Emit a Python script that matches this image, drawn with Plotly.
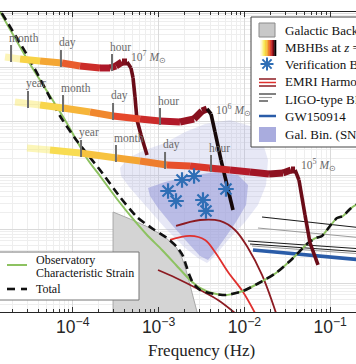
import numpy as np
import plotly.graph_objects as go
from plotly.colors import sample_colorscale

# ================= DATA  (log10 frequency [Hz], log10 characteristic strain) =================
obs_logf = [-4.907, -4.499, -4.091, -3.823, -3.683, -3.485, -3.298, -3.135, -2.960, -2.797, -2.646, -2.518,
            -2.378, -2.215, -2.016, -1.830, -1.632, -1.469, -1.352, -1.259, -1.166, -1.096, -1.002, -0.921,
            -0.851, -0.769, -0.699, -0.629]
obs_logh = [-14.814, -15.944, -16.981, -17.722, -18.018, -18.444, -18.814, -19.111, -19.388, -19.666, -19.926,
            -20.092, -20.185, -20.222, -20.148, -20.000, -19.814, -19.592, -19.407, -19.259, -19.166, -19.129,
            -18.944, -18.796, -18.759, -18.629, -18.555, -18.518]

tot_logf = [-4.907, -4.499, -4.149, -3.951, -3.683, -3.450, -3.252, -3.065, -2.902, -2.786, -2.716, -2.681,
            -2.646, -2.599, -2.518, -2.413, -2.215, -2.016, -1.830, -1.632, -1.469, -1.352, -1.259, -1.166,
            -1.096, -1.002, -0.921, -0.851, -0.769, -0.699, -0.629]
tot_logh = [-14.796, -15.870, -16.907, -17.370, -17.907, -18.407, -18.777, -19.000, -19.166, -19.333, -19.500,
            -19.666, -19.833, -20.000, -20.129, -20.185, -20.222, -20.148, -20.000, -19.814, -19.592, -19.407,
            -19.259, -19.166, -19.129, -18.944, -18.796, -18.759, -18.629, -18.555, -18.518]

galbg_logf = [-3.531, -3.531, -3.333, -3.100, -2.925, -2.797, -2.727, -2.681, -2.634, -2.587, -2.552, -2.541]
galbg_logh = [-20.870, -18.685, -18.814, -18.981, -19.148, -19.333, -19.537, -19.759, -20.037, -20.314, -20.537, -20.870]

galbin_outer_logf = [-3.450, -3.357, -3.159, -2.925, -2.692, -2.459, -2.168, -1.935, -1.795, -1.725, -1.748,
                     -1.842, -1.993, -2.191, -2.343, -2.436, -2.541, -2.692, -2.925, -3.159, -3.333, -3.438]
galbin_outer_logh = [-17.870, -17.685, -17.537, -17.407, -17.203, -17.055, -16.981, -17.092, -17.351, -17.722,
                     -18.185, -18.555, -18.870, -19.203, -19.500, -19.629, -19.537, -19.351, -18.981, -18.555,
                     -18.240, -18.018]
galbin_core_logf = [-3.124, -2.925, -2.634, -2.343, -2.075, -1.958, -1.981, -2.098, -2.226, -2.343, -2.424,
                    -2.518, -2.657, -2.844, -3.007, -3.100]
galbin_core_logh = [-18.240, -18.129, -18.018, -17.944, -18.000, -18.185, -18.555, -18.870, -19.166, -19.425,
                    -19.574, -19.500, -19.259, -18.926, -18.611, -18.388]

vb_logf = [-2.890, -2.797, -2.727, -2.587, -2.483, -2.448, -2.215]
vb_logh = [-18.296, -18.481, -18.092, -18.018, -18.463, -18.666, -18.259]

mbhb7_logf = [-4.790, -4.615, -4.382, -4.126, -3.916, -3.683, -3.566, -3.497, -3.427, -3.368, -3.322, -3.298,
              -3.275, -3.252, -3.205, -3.135]
mbhb7_logh = [-15.814, -15.851, -15.888, -15.925, -15.981, -16.018, -16.018, -15.981, -15.907, -15.907, -16.018,
              -16.203, -16.555, -16.981, -17.259, -17.629]
mbhb6_logf = [-4.674, -4.382, -4.114, -3.800, -3.531, -3.217, -2.984, -2.751, -2.587, -2.494, -2.436, -2.389,
              -2.343, -2.273, -2.203, -2.133]
mbhb6_logh = [-16.648, -16.703, -16.759, -16.833, -16.907, -16.963, -17.000, -17.018, -16.963, -16.814, -16.777,
              -16.870, -17.203, -17.722, -18.185, -18.648]
mbhb5_logf = [-4.534, -4.266, -3.916, -3.485, -3.217, -2.902, -2.634, -2.413, -2.168, -1.935, -1.713, -1.550,
              -1.457, -1.410, -1.364, -1.294, -1.235, -1.142]
mbhb5_logh = [-17.500, -17.537, -17.592, -17.685, -17.740, -17.814, -17.833, -17.870, -17.907, -17.944, -17.981,
              -17.962, -17.907, -17.907, -18.092, -18.740, -19.259, -19.666]
mbhb_mass_labels = ["10<sup>7</sup> <i>M</i><sub>⊙</sub>", "10<sup>6</sup> <i>M</i><sub>⊙</sub>",
                    "10<sup>5</sup> <i>M</i><sub>⊙</sub>"]
mass_label_logf = [-3.345, -2.354, -1.364]
mass_label_logh = [-15.814, -16.796, -17.814]

tick7_logf = [-4.720, -4.138, -3.543]
tick7_logh = [-15.833, -15.925, -16.000]
tick7_text = ["month", "day", "hour"]
tick6_logf = [-4.522, -4.114, -3.531, -2.984]
tick6_logh = [-16.685, -16.759, -16.907, -17.000]
tick6_text = ["year", "month", "day", "hour"]
tick5_logf = [-3.904, -3.497, -2.925, -2.389]
tick5_logh = [-17.592, -17.685, -17.814, -17.870]
tick5_text = ["year", "month", "day", "hour"]

emri1_logf = [-3.007, -2.797, -2.518, -2.308, -2.110]
emri1_logh = [-19.759, -19.907, -20.129, -20.314, -20.555]
emri2_logf = [-2.867, -2.634, -2.459, -2.343, -2.191, -2.016, -1.877]
emri2_logh = [-19.203, -19.129, -19.203, -19.425, -19.796, -20.166, -20.555]
emri3_logf = [-2.797, -2.518, -2.284, -2.110, -1.958, -1.795, -1.632]
emri3_logh = [-18.944, -18.833, -18.851, -19.018, -19.351, -19.851, -20.555]

ligo_logf_start = [-1.795, -1.842, -1.958, -1.935, -1.911]
ligo_logh_start = [-18.777, -18.981, -19.222, -19.277, -19.314]
ligo_logf_end = [-0.62, -0.62, -0.62, -0.62, -0.62]
ligo_logh_end = [-18.981, -19.166, -19.370, -19.425, -19.463]
gw150914_logf = [-1.900, -0.62]
gw150914_logh = [-19.388, -19.574]

# ================= STYLE =================
W, H = 356, 364
ML, MR, MT, MB = 0, 0, 12, 52
PW, PH = W - ML - MR, H - MT - MB
SERIF = "Liberation Serif"
GREEN = "#8dc261"
BLUE = "#2f6eb5"
DKRED = "#8c1b22"
RED = "#e0302e"
LAV = "#a9acde"


def PX(px):
    return (px - ML) / PW


def PY(py):
    return (MT + PH - py) / PH


def pw(v):
    return [10 ** x for x in v]


fig = go.Figure()

# galactic binaries cloud
fig.add_trace(go.Scatter(x=pw(galbin_outer_logf), y=pw(galbin_outer_logh), fill="toself", mode="none",
                         fillcolor="rgba(168,172,224,0.28)", hoverinfo="skip"))
fig.add_trace(go.Scatter(x=pw(galbin_core_logf), y=pw(galbin_core_logh), fill="toself", mode="none",
                         fillcolor="rgba(158,162,220,0.62)", hoverinfo="skip"))
# galactic background
fig.add_trace(go.Scatter(x=pw(galbg_logf), y=pw(galbg_logh), fill="toself", mode="lines",
                         line=dict(color="#a8a8a8", width=1), fillcolor="#d4d4d4", hoverinfo="skip"))
# EMRI harmonics
for lf, lh, c in [(emri1_logf, emri1_logh, DKRED), (emri2_logf, emri2_logh, RED), (emri3_logf, emri3_logh, DKRED)]:
    fig.add_trace(go.Scatter(x=pw(lf), y=pw(lh), mode="lines", line=dict(color=c, width=1.8, shape="spline"),
                             hoverinfo="skip"))
# LIGO-type BBH
ligo_cols = ["#1a1a1a", "#9a9a9a", "#1a1a1a", "#1a1a1a", "#9a9a9a"]
for i in range(len(ligo_logf_start)):
    fig.add_trace(go.Scatter(x=pw([ligo_logf_start[i], ligo_logf_end[i]]),
                             y=pw([ligo_logh_start[i], ligo_logh_end[i]]), mode="lines",
                             line=dict(color=ligo_cols[i], width=1.1), hoverinfo="skip"))
fig.add_trace(go.Scatter(x=pw(gw150914_logf), y=pw(gw150914_logh), mode="lines",
                         line=dict(color="#2a5ca8", width=3.5), hoverinfo="skip"))

# sensitivity curves
fig.add_trace(go.Scatter(x=pw(obs_logf), y=pw(obs_logh), mode="lines",
                         line=dict(color=GREEN, width=2, shape="spline", smoothing=0.6), hoverinfo="skip"))
fig.add_trace(go.Scatter(x=pw(tot_logf), y=pw(tot_logh), mode="lines",
                         line=dict(color="#111111", width=2.6, dash="8px,5px", shape="spline", smoothing=0.6),
                         hoverinfo="skip"))

# MBHB tracks
track_cs = [[0, "#f9f06a"], [0.2, "#f8d448"], [0.4, "#f4a030"], [0.6, "#e43f2a"], [0.8, "#b3192a"], [1, "#7a0e1c"]]
tracks = [(mbhb7_logf, mbhb7_logh, 9, "#6a0c18"),
          (mbhb6_logf, mbhb6_logh, 10, "#160808"),
          (mbhb5_logf, mbhb5_logh, 13, "#6a0c18")]
for lf, lh, di, dcol in tracks:
    n = len(lf)
    for i in range(n - 1):
        if i < di:
            t = ((lf[i] + lf[i + 1]) / 2 - lf[0]) / (lf[di] - lf[0])
            col = sample_colorscale(track_cs, [min(max(t, 0), 1)])[0]
            wid = 7
        else:
            col = dcol
            wid = 3.6
        op = 0.45 if i == 0 else 1.0
        fig.add_trace(go.Scatter(x=pw([lf[i], lf[i + 1]]), y=pw([lh[i], lh[i + 1]]), mode="lines",
                                 line=dict(color=col, width=wid), opacity=op, hoverinfo="skip"))

# time-to-merger ticks & labels
annotations = []
for tf, th, tt in [(tick7_logf, tick7_logh, tick7_text), (tick6_logf, tick6_logh, tick6_text),
                   (tick5_logf, tick5_logh, tick5_text)]:
    for f0, h0, s in zip(tf, th, tt):
        fig.add_trace(go.Scatter(x=[10 ** f0, 10 ** f0], y=[10 ** (h0 - 0.074), 10 ** (h0 + 0.241)], mode="lines",
                                 line=dict(color="#6e6e6e", width=2), hoverinfo="skip"))
        annotations.append(dict(x=f0, y=h0 + 0.241, xref="x", yref="y", text=s, showarrow=False,
                                xanchor="left", yanchor="bottom", xshift=-4, yshift=-1,
                                font=dict(family=SERIF, size=11.5, color="#6a6a6a")))
for f0, h0, s in zip(mass_label_logf, mass_label_logh, mbhb_mass_labels):
    annotations.append(dict(x=f0, y=h0, xref="x", yref="y", text=s, showarrow=False, xanchor="left",
                            yanchor="middle", font=dict(family=SERIF, size=11.5, color="#6a6a6a")))

# verification binaries
fig.add_trace(go.Scatter(x=pw(vb_logf), y=pw(vb_logh), mode="markers",
                         marker=dict(symbol="asterisk-open", size=13, color=BLUE, line=dict(color=BLUE, width=2.2)),
                         hoverinfo="skip"))

# ================= LEGENDS (shapes/annotations in paper coords) =================
shapes = []


def rect(x0, y0, x1, y1, fill, line="rgba(0,0,0,0)", lw=1):
    shapes.append(dict(type="rect", xref="paper", yref="paper", x0=PX(x0), x1=PX(x1), y0=PY(y1), y1=PY(y0),
                       fillcolor=fill, line=dict(color=line, width=lw), layer="above"))


def hline(x0, x1, y, color, lw):
    shapes.append(dict(type="line", xref="paper", yref="paper", x0=PX(x0), x1=PX(x1), y0=PY(y), y1=PY(y),
                       line=dict(color=color, width=lw), layer="above"))


def label(x, y, s, size):
    annotations.append(dict(x=PX(x), y=PY(y), xref="paper", yref="paper", text=s, showarrow=False,
                            xanchor="left", yanchor="middle", font=dict(family=SERIF, size=size, color="#111")))


# top-right legend
rect(251, 17, 390, 147, "white", "#444", 1)
rect(259, 23, 275, 37, "#c8c8c8", "#8a8a8a", 1)
grad = sample_colorscale([[0, "#fffbe6"], [0.25, "#f8e94a"], [0.5, "#f3a02e"], [0.7, "#e0302a"],
                          [0.85, "#8a0c1a"], [1, "#000000"]], list(np.linspace(0, 1, 10)))
for k, c in enumerate(grad):
    rect(260 + k * 1.6, 40, 260 + (k + 1) * 1.6 + 0.3, 56, c)
cx, cy, r = 267, 64, 6.5
path = ""
for ang in [0, 45, 90, 135]:
    dx, dy = r * np.cos(np.radians(ang)), r * np.sin(np.radians(ang))
    path += f"M {PX(cx - dx)} {PY(cy - dy)} L {PX(cx + dx)} {PY(cy + dy)} "
shapes.append(dict(type="path", xref="paper", yref="paper", path=path, line=dict(color=BLUE, width=2),
                   layer="above"))
hline(259, 276, 79, DKRED, 1.5)
hline(259, 276, 82.5, RED, 1.5)
hline(259, 276, 86, DKRED, 1.5)
hline(259, 276, 94, "#1a1a1a", 1.1)
hline(259, 272, 97.5, "#9a9a9a", 1.1)
hline(259, 268, 101, "#1a1a1a", 1.1)
hline(259, 276, 116, "#2a5ca8", 2.5)
rect(259, 127, 276, 142, LAV)
label(283, 30, "Galactic Background", 13)
label(283, 47.5, "MBHBs at <i>z</i> = 3", 13)
label(283, 64.5, "Verification Binaries", 13)
label(283, 82, "EMRI Harmonics", 13)
label(283, 99, "LIGO-type BBH", 13)
label(283, 116, "GW150914", 13)
label(283, 134, "Gal. Bin. (SNR &gt; 7)", 13)

# bottom-left legend
rect(-5, 252, 139, 300, "white", "#777", 1)
hline(7, 27, 265, GREEN, 2)
hline(7, 15, 289, "#111", 2.6)
hline(21, 27, 289, "#111", 2.6)
label(34, 259.5, "Observatory", 12)
label(34, 272.5, "Characteristic Strain", 12)
label(34, 289, "Total", 12)

# axis title
annotations.append(dict(x=PX(201), y=PY(351), xref="paper", yref="paper", text="Frequency (Hz)", showarrow=False,
                        xanchor="center", yanchor="middle", font=dict(family=SERIF, size=17, color="#222")))

fig.update_layout(width=W, height=H, margin=dict(l=ML, r=MR, t=MT, b=MB), paper_bgcolor="white",
                  plot_bgcolor="white", showlegend=False, shapes=shapes, annotations=annotations,
                  font=dict(family=SERIF), hovermode=False)
fig.update_xaxes(type="log", range=[-4.8485, -0.6995], dtick=1, exponentformat="power", showexponent="all",
                 tickfont=dict(family="Liberation Sans", size=14, color="#262626"), ticks="inside", ticklen=5,
                 tickcolor="#333", showline=True, linecolor="#262626", linewidth=1, mirror="ticks",
                 showgrid=True, gridcolor="#dadada", gridwidth=1, zeroline=False,
                 minor=dict(ticks="inside", ticklen=3, tickcolor="#333", showgrid=True, gridcolor="#eeeeee"))
fig.update_yaxes(type="log", range=[-20.537, -14.981], dtick=1, showticklabels=False, ticks="", showline=False,
                 showgrid=True, gridcolor="#dadada", zeroline=False,
                 minor=dict(showgrid=True, gridcolor="#eeeeee"))

fig.write_html("out.html", config={"displayModeBar": False, "staticPlot": True},
               post_script="document.body.style.margin='0';document.body.style.overflow='hidden';")
